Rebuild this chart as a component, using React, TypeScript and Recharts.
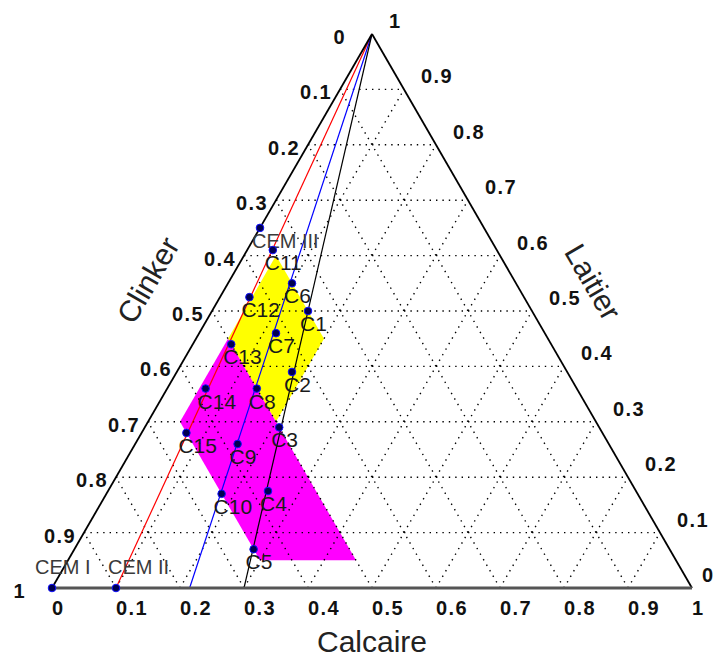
import { ScatterChart, Scatter, XAxis, YAxis, ReferenceLine, ReferenceArea } from "recharts";

const H = Math.sqrt(3) / 2;

// mixtures: calcaire and laitier fractions (clinker = 1 - calcaire - laitier)
const pointNames = ["CEM I", "CEM II", "CEM III", "C1", "C2", "C3", "C4", "C5", "C6", "C7", "C8", "C9", "C10", "C11", "C12", "C13", "C14", "C15"];
const pointCalcaire = [0, 0.1, 0, 0.15, 0.18, 0.21, 0.25, 0.28, 0.1, 0.12, 0.14, 0.16, 0.18, 0.04, 0.046, 0.06, 0.06, 0.07];
const pointLaitier = [0, 0, 0.65, 0.5, 0.39, 0.29, 0.175, 0.07, 0.55, 0.46, 0.36, 0.26, 0.17, 0.61, 0.525, 0.44, 0.36, 0.28];

// lines from the Laitier apex, ending on the Calcaire axis
const rayEnds = [0.1, 0.215, 0.3];
const rayColors = ["#ff0000", "#0000ff", "#000000"];

// zones
const yellowCalcaire = [0.05, 0.2, 0.2, 0.05];
const yellowLaitier = [0.6, 0.45, 0.3, 0.45];
const magentaCalcaire = [0.05, 0.05, 0.3, 0.45];
const magentaLaitier = [0.45, 0.3, 0.05, 0.05];

const tickValues = [0, 0.1, 0.2, 0.3, 0.4, 0.5, 0.6, 0.7, 0.8, 0.9, 1];
const tickLabels = ["0", "0.1", "0.2", "0.3", "0.4", "0.5", "0.6", "0.7", "0.8", "0.9", "1"];
const gridValues = [0.1, 0.2, 0.3, 0.4, 0.5, 0.6, 0.7, 0.8, 0.9];

const FONT = "'Liberation Sans', Arial, sans-serif";

const toXY = (k: number, l: number) => ({ x: k + l / 2, y: l * H });

const points = pointNames.map((name, i) => ({ name, ...toXY(pointCalcaire[i], pointLaitier[i]), base: pointLaitier[i] === 0 }));

const calcaireTicks = tickValues.map((t, i) => ({ label: tickLabels[i], ...toXY(t, 0) }));
const clinkerTicks = tickValues.map((t, i) => ({ label: tickLabels[i], ...toXY(0, 1 - t) }));
const laitierTicks = tickValues.map((t, i) => ({ label: tickLabels[i], ...toXY(1 - t, t) }));

const titles = [
  { name: "Calcaire", ...toXY(0.5, 0), dx: 0, dy: 64, rot: 0 },
  { name: "Clinker", ...toXY(0, 0.5), dx: -64, dy: -31, rot: -60 },
  { name: "Laitier", ...toXY(0.5, 0.5), dx: 61, dy: -29, rot: 60 },
];

const gridSegments = gridValues.flatMap((t) => [
  [toXY(0, t), toXY(1 - t, t)],
  [toXY(t, 0), toXY(t, 1 - t)],
  [toXY(1 - t, 0), toXY(0, 1 - t)],
]);

const polygonShape = (ks: number[], ls: number[], fill: string) => (props: any) => {
  const { x, y, width, height } = props;
  const pts = ks
    .map((k, i) => {
      const p = toXY(k, ls[i]);
      return `${x + p.x * width},${y + height * (1 - p.y / H)}`;
    })
    .join(" ");
  return <polygon points={pts} fill={fill} stroke="none" />;
};

const PointShape = (props: any) => {
  const { cx, cy, payload } = props;
  const isCem = payload.name.startsWith("CEM");
  return (
    <g>
      <circle cx={cx} cy={cy} r={3.8} fill="#000050" stroke="#1010ff" strokeWidth={1} />
      <text
        x={cx + (payload.name === "CEM I" ? -17 : -8)}
        y={payload.base ? cy - 14 : cy + 20}
        fontSize={isCem ? 20 : 21}
        fontFamily={FONT}
        fill={isCem ? "#3a3a3a" : "#1a1a1a"}
      >
        {payload.name}
      </text>
    </g>
  );
};

const tickText = (anchor: string, dx: (l: string) => number, dy: number) => (props: any) => {
  const { cx, cy, payload } = props;
  return (
    <text
      x={cx + dx(payload.label)}
      y={cy + dy}
      textAnchor={anchor}
      fontSize={20}
      fontWeight="bold"
      letterSpacing={1.4}
      fontFamily={FONT}
      fill="#111"
    >
      {payload.label}
    </text>
  );
};

const TitleShape = (props: any) => {
  const { cx, cy, payload } = props;
  const tx = cx + payload.dx;
  const ty = cy + payload.dy;
  return (
    <text
      x={tx}
      y={ty}
      textAnchor="middle"
      dominantBaseline={payload.rot === 0 ? "auto" : "central"}
      transform={payload.rot === 0 ? undefined : `rotate(${payload.rot} ${tx} ${ty})`}
      fontSize={30}
      fontFamily={FONT}
      fill="#222"
    >
      {payload.name}
    </text>
  );
};

export default function App() {
  return (
    <div style={{ position: "absolute", left: 0, top: 0, background: "#fff" }}>
      <ScatterChart width={717} height={657} margin={{ top: 34, right: 25, bottom: 69, left: 52 }}>
        <XAxis type="number" dataKey="x" domain={[0, 1]} hide />
        <YAxis type="number" dataKey="y" domain={[0, H]} hide />

        <ReferenceArea x1={0} x2={1} y1={0} y2={H} shape={polygonShape(yellowCalcaire, yellowLaitier, "#ffff00")} />
        <ReferenceArea x1={0} x2={1} y1={0} y2={H} shape={polygonShape(magentaCalcaire, magentaLaitier, "#ff00ff")} />

        {gridSegments.map((seg, i) => (
          <ReferenceLine key={`g${i}`} segment={seg} stroke="#000" strokeWidth={1.4} strokeDasharray="1.4 5" />
        ))}

        {rayEnds.map((k, i) => (
          <ReferenceLine key={`r${i}`} segment={[toXY(0, 1), toXY(k, 0)]} stroke={rayColors[i]} strokeWidth={1.2} />
        ))}

        <ReferenceLine segment={[toXY(0, 0), toXY(0, 1)]} stroke="#000" strokeWidth={1.8} />
        <ReferenceLine segment={[toXY(1, 0), toXY(0, 1)]} stroke="#000" strokeWidth={1.8} />
        <ReferenceLine segment={[toXY(0, 0), toXY(1, 0)]} stroke="#555" strokeWidth={3} />

        <Scatter data={points} shape={PointShape} isAnimationActive={false} />
        <Scatter data={calcaireTicks} shape={tickText("start", () => 0, 27)} isAnimationActive={false} />
        <Scatter data={clinkerTicks} shape={tickText("end", (l) => (l.length === 1 ? -26 : -8), 10)} isAnimationActive={false} />
        <Scatter data={laitierTicks} shape={tickText("start", (l) => (l === "0" ? 10 : 17), -6)} isAnimationActive={false} />
        <Scatter data={titles} shape={TitleShape} isAnimationActive={false} />
      </ScatterChart>
    </div>
  );
}
